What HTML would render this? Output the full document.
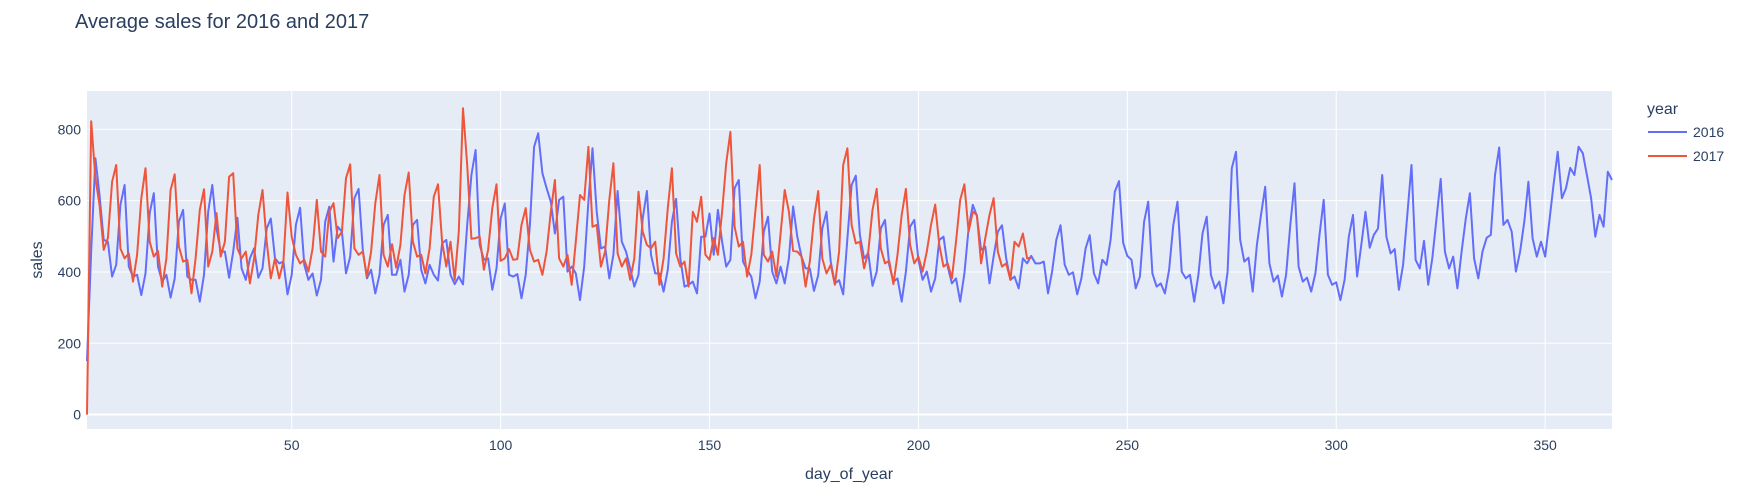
<!DOCTYPE html>
<html><head><meta charset="utf-8"><style>
html,body{margin:0;padding:0;background:#fff;}
svg{display:block;font-family:"Liberation Sans",sans-serif;}
</style></head><body>
<svg id="chart" width="1738" height="496" viewBox="0 0 1738 496">
<text x="75" y="28" font-size="20" fill="#2a3f5f">Average sales for 2016 and 2017</text>
<rect x="87" y="91" width="1525" height="338" fill="#E5ECF6"/>
<g id="grid"></g>
<g id="lines"></g>
<g id="ticks" font-size="14" fill="#2a3f5f"></g>
<text x="849" y="479" font-size="16" fill="#2a3f5f" text-anchor="middle">day_of_year</text>
<text transform="translate(42,260) rotate(-90)" font-size="16" fill="#2a3f5f" text-anchor="middle">sales</text>
<g>
<text x="1647" y="114" font-size="16" fill="#2a3f5f">year</text>
<g><line x1="1648" y1="132" x2="1687" y2="132" stroke="#636efa" stroke-width="2"/><text x="1693" y="137" font-size="14" fill="#2a3f5f">2016</text></g>
<g><line x1="1648" y1="156" x2="1687" y2="156" stroke="#EF553B" stroke-width="2"/><text x="1693" y="161" font-size="14" fill="#2a3f5f">2017</text></g>
</g>
</svg>
<script>
const sales2016 = [150,460,719,616,490,485,387,420,588,644,415,387,392,335,396,565,621,415,373,392,328,382,541,574,387,378,378,317,392,569,644,522,457,457,384,457,552,410,378,438,466,384,410,522,550,438,424,429,337,392,532,580,420,378,396,334,378,541,583,429,527,513,396,443,607,633,462,382,406,340,392,532,560,392,392,434,345,392,532,546,406,368,420,392,376,480,490,392,366,387,365,532,672,742,476,434,438,350,410,550,592,392,387,394,326,392,532,751,789,677,635,597,508,602,611,401,415,396,321,415,597,747,569,466,471,382,448,627,485,457,410,359,392,550,627,448,396,396,345,406,541,605,438,359,364,373,340,499,499,564,448,574,485,415,434,635,658,429,406,387,326,373,513,555,401,368,415,368,438,584,499,443,410,410,347,391,522,569,429,368,377,337,494,644,670,503,438,452,361,401,522,546,420,373,382,317,401,527,546,434,378,401,345,382,490,499,415,368,382,317,396,522,588,557,462,471,368,443,513,531,438,378,387,354,438,424,445,424,424,429,340,401,490,531,420,392,399,337,382,466,503,396,368,434,420,490,625,655,481,445,434,354,387,541,597,396,359,368,340,406,532,597,401,382,392,317,392,508,555,392,354,373,312,401,691,737,490,429,440,345,476,560,639,424,373,390,331,392,532,649,415,373,384,345,396,504,602,392,364,371,321,378,499,560,387,476,569,468,504,522,672,499,452,464,350,420,560,700,434,410,487,364,438,550,661,457,410,443,354,457,550,621,438,382,457,496,504,672,749,532,546,513,401,457,541,653,494,443,485,443,541,644,737,607,635,692,672,751,733,672,607,499,560,527,681,658];
const sales2017 = [0,823,663,588,462,495,653,700,466,438,452,373,448,607,691,485,443,459,359,438,630,674,471,429,434,340,438,574,632,415,457,565,443,485,667,677,466,438,457,368,438,560,630,485,382,438,382,429,623,499,448,424,434,401,466,602,457,443,569,593,495,513,663,702,466,448,457,387,457,593,672,448,415,478,412,476,616,679,485,443,448,396,466,611,646,485,415,485,378,513,859,700,493,495,499,406,462,579,646,431,438,464,434,436,532,579,462,429,434,392,457,569,658,438,415,448,364,485,616,602,751,527,532,415,457,602,705,452,415,438,378,438,625,513,476,466,485,364,438,579,691,452,415,429,359,569,541,611,448,434,495,448,569,705,793,527,471,485,387,448,574,700,448,429,457,387,508,630,569,459,457,443,359,429,550,627,438,396,420,364,457,700,747,532,480,485,410,457,574,633,466,424,431,366,448,560,633,476,424,443,401,457,532,589,476,415,424,382,485,602,646,513,569,560,424,495,560,607,457,415,424,378,485,471,508,438,440];
const xTicks = [50,100,150,200,250,300,350];
const yTicks = [0,200,400,600,800];
const seriesNames = ["2016","2017"];
const seriesColors = ["#636efa","#EF553B"];

const L=87,R=1612,T=91,B=429, xMin=1,xMax=366, yMin=-40.5,yMax=907.6;
const xs=d=>L+(d-xMin)/(xMax-xMin)*(R-L);
const ys=v=>B-(v-yMin)/(yMax-yMin)*(B-T);
const NS="http://www.w3.org/2000/svg";
const grid=document.getElementById('grid'), lines=document.getElementById('lines'), ticks=document.getElementById('ticks');
function mk(tag,attrs,parent){const e=document.createElementNS(NS,tag);for(const k in attrs)e.setAttribute(k,attrs[k]);parent.appendChild(e);return e;}
xTicks.forEach(t=>{
  const g=mk('line',{x1:xs(t),x2:xs(t),y1:T,y2:B,stroke:'#fff','stroke-width':1},grid);
  
  
  const tx=mk('text',{x:xs(t),y:B+21,'text-anchor':'middle'},ticks);
  tx.textContent=t;
  
  
});
yTicks.forEach(t=>{
  const g=mk('line',{x1:L,x2:R,y1:ys(t),y2:ys(t),stroke:'#fff','stroke-width':t===0?2:1},grid);
  
  
  const tx=mk('text',{x:L-6,y:ys(t)+5,'text-anchor':'end'},ticks);
  tx.textContent=t;
  
  
});
[sales2016,sales2017].forEach((arr,i)=>{
  const pts=arr.map((v,j)=>xs(j+1).toFixed(1)+','+ys(v).toFixed(1)).join(' ');
  const p=mk('polyline',{points:pts,fill:'none',stroke:seriesColors[i],'stroke-width':2,'stroke-linejoin':'round'},lines);
  
  
});
</script>
</body></html>
